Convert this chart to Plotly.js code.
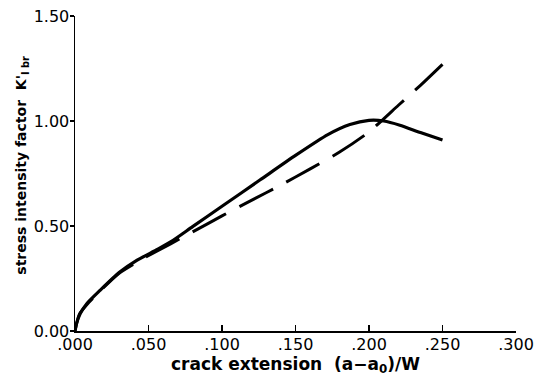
<!DOCTYPE html>
<html>
<head>
<meta charset="utf-8">
<script src="https://cdn.plot.ly/plotly-3.0.1.min.js"></script>
<style>html,body{margin:0;padding:0;background:#fff;}#chart{width:542px;height:388px;}</style>
</head>
<body>
<div id="chart"></div>
<script>
// Solid curve
const solidX = [0, 0.001, 0.0035, 0.008, 0.017, 0.03, 0.042, 0.055, 0.065, 0.08, 0.1, 0.126, 0.15, 0.172, 0.187, 0.2, 0.21, 0.221, 0.235, 0.25];
const solidY = [0, 0.035, 0.082, 0.13, 0.193, 0.278, 0.336, 0.385, 0.424, 0.497, 0.594, 0.72, 0.836, 0.935, 0.983, 1.003, 1.0, 0.98, 0.945, 0.91];
// Dashed curve
const dashX = [0, 0.003, 0.008, 0.017, 0.03, 0.045, 0.065, 0.08, 0.10, 0.12, 0.14, 0.16, 0.18, 0.20, 0.22, 0.235, 0.25];
const dashY = [0, 0.08, 0.125, 0.19, 0.275, 0.34, 0.415, 0.472, 0.548, 0.622, 0.695, 0.772, 0.852, 0.948, 1.075, 1.17, 1.27];
// Tick labels
const xTickVals = [0, 0.05, 0.10, 0.15, 0.20, 0.25, 0.30];
const xTickText = ['.000', '.050', '.100', '.150', '.200', '.250', '.300'];
const yTickVals = [0, 0.5, 1.0, 1.5];
const yTickText = ['0.00', '0.50', '1.00', '1.50'];

const FONT = 'DejaVu Sans, Arial, sans-serif';

const traces = [
  {x: solidX, y: solidY, mode: 'lines', line: {color: '#000', width: 3.2, shape: 'spline', smoothing: 0.6}, hoverinfo: 'skip'},
  {x: dashX, y: dashY, mode: 'lines', line: {color: '#000', width: 3, dash: '38px,15px', shape: 'spline', smoothing: 0.6}, hoverinfo: 'skip'}
];

const layout = {
  width: 542, height: 388,
  margin: {l: 75, r: 26, t: 16, b: 57},
  paper_bgcolor: '#fff', plot_bgcolor: '#fff',
  showlegend: false,
  font: {family: FONT, color: '#000', size: 16},
  xaxis: {
    range: [0, 0.3], tickvals: xTickVals, ticktext: xTickText,
    ticks: 'inside', ticklen: 6, tickwidth: 1.2, tickcolor: '#000',
    showline: true, linecolor: '#000', linewidth: 1.5,
    showgrid: false, zeroline: false,
    tickfont: {family: FONT, size: 16, color: '#000'},
    ticklabelstandoff: -2,
    title: {text: 'crack extension  (a\u2212a<sub>0</sub>)/W', font: {family: FONT, size: 17, weight: 'bold', color: '#000'}, standoff: 3}
  },
  yaxis: {
    range: [0, 1.5], tickvals: yTickVals, ticktext: yTickText,
    ticks: 'outside', ticklen: 4, tickwidth: 1.2, tickcolor: '#000',
    showline: true, linecolor: '#000', linewidth: 1.5,
    showgrid: false, zeroline: false,
    tickfont: {family: FONT, size: 16, color: '#000'},
    ticklabelstandoff: -3
  },
  annotations: [{
    text: "stress intensity factor  K'<sub>I br</sub>",
    xref: 'paper', yref: 'paper', x: -0.12, y: 0.525,
    xanchor: 'center', yanchor: 'middle', textangle: -90, showarrow: false,
    font: {family: FONT, size: 14, weight: 'bold', color: '#000'}
  }]
};

Plotly.newPlot('chart', traces, layout, {staticPlot: true, displayModeBar: false});
</script>
</body>
</html>
